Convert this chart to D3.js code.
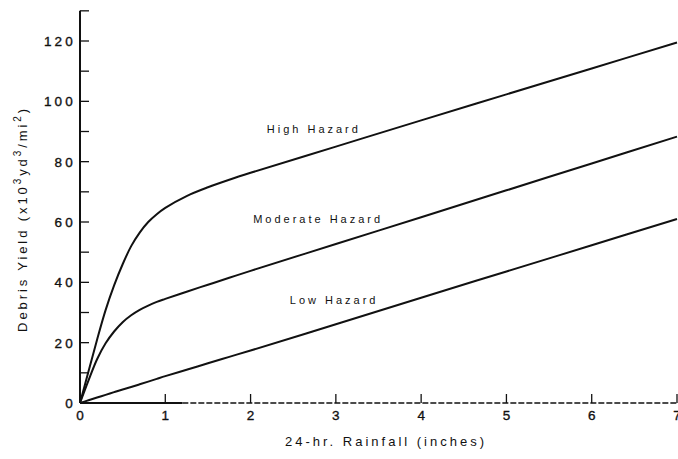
<!DOCTYPE html>
<meta charset="utf-8">
<style>
    html, body { margin: 0; padding: 0; background: #fff; }
    text { font-family: "Liberation Sans", Arial, sans-serif; fill: #111; }
</style>
<script src="https://d3js.org/d3.v7.min.js"></script>

<div id="chart"></div>

<script>
    // data
    const rainfall = [0, 0.1, 0.2, 0.3, 0.4, 0.5, 0.6, 0.7, 0.8, 0.9, 1.0, 1.25, 1.5, 1.75, 2, 3, 4, 5, 6, 7]
    const highHazard = [0, 10.5, 21, 30.8, 39, 46, 52, 56.5, 60, 62.6, 64.7, 68.6, 71.5, 74, 76.3, 85, 93.7, 102.3, 110.9, 119.5]
    const moderateHazard = [0, 7.5, 14.5, 19.8, 23.7, 26.8, 29.1, 30.9, 32.3, 33.5, 34.5, 36.9, 39.2, 41.5, 43.8, 52.7, 61.6, 70.5, 79.4, 88.3]
    const lowHazard = [0, 0.9, 1.8, 2.7, 3.6, 4.5, 5.3, 6.2, 7.1, 8.0, 8.9, 11, 13.2, 15.3, 17.4, 26.1, 34.9, 43.6, 52.3, 61]
    const seriesNames = ["High Hazard", "Moderate Hazard", "Low Hazard"]
    const xTicks = [0, 1, 2, 3, 4, 5, 6, 7]
    const yTicks = [0, 20, 40, 60, 80, 100, 120]
    const yMinorTicks = [10, 30, 50, 70, 90, 110]

    const W = 678, H = 459
    const svg = d3.select("#chart").append("svg")
        .attr("width", W)
        .attr("height", H)

    const x = d3.scaleLinear().domain([0, 7]).range([80, 677])
    const y = d3.scaleLinear().domain([0, 120]).range([403, 41])

    // y axis (ticks point inward)
    const yAxis = svg.append("g").attr("transform", `translate(${x(0)},0)`)
    yAxis.append("line")
        .attr("y1", y(0)).attr("y2", y(130))
        .attr("stroke", "#111").attr("stroke-width", 2)
    yAxis.append("line")
        .attr("x2", 9).attr("y1", y(130)).attr("y2", y(130))
        .attr("stroke", "#111").attr("stroke-width", 1.3)
    yAxis.selectAll(".ytick")
        .data(yTicks.concat(yMinorTicks))
        .join("line")
        .attr("x2", 9)
        .attr("y1", d => y(d)).attr("y2", d => y(d))
        .attr("stroke", "#111").attr("stroke-width", 1.3)
    yAxis.selectAll(".ylab")
        .data(yTicks)
        .join("text")
        .attr("x", -4)
        .attr("y", d => y(d))
        .attr("dy", "0.36em")
        .attr("text-anchor", "end")
        .style("font-size", "13.5px")
        .style("letter-spacing", "3.2px")
        .style("stroke", "#111").style("stroke-width", 0.35)
        .text(d => d)

    // x axis (ticks point up), partly dashed as in the scan
    const xAxis = svg.append("g").attr("transform", `translate(0,${y(0)})`)
    xAxis.append("line")
        .attr("x1", x(0)).attr("x2", x(1.2))
        .attr("stroke", "#111").attr("stroke-width", 2.2)
    xAxis.append("line")
        .attr("x1", x(1.2)).attr("x2", x(7))
        .attr("stroke", "#111").attr("stroke-width", 1.4)
        .attr("stroke-dasharray", "6,2")
    xAxis.selectAll(".xtick")
        .data(xTicks)
        .join("line")
        .attr("x1", d => x(d)).attr("x2", d => x(d))
        .attr("y2", -9)
        .attr("stroke", "#111").attr("stroke-width", 1.3)
    xAxis.selectAll(".xlab")
        .data(xTicks)
        .join("text")
        .attr("x", d => x(d))
        .attr("y", 17)
        .attr("text-anchor", "middle")
        .style("font-size", "13.5px")
        .style("stroke", "#111").style("stroke-width", 0.35)
        .text(d => d)

    // curves
    const series = [highHazard, moderateHazard, lowHazard]
    const line = d3.line()
        .x((d, i) => x(rainfall[i]))
        .y(d => y(d))
        .curve(d3.curveCatmullRom.alpha(0.5))
    svg.append("g")
        .selectAll("path")
        .data(series)
        .join("path")
        .attr("d", line)
        .attr("fill", "none")
        .attr("stroke", "#111")
        .attr("stroke-width", 2)

    // curve labels
    const labelPos = [[2.19, 89.5], [2.03, 59.7], [2.46, 32.8]]
    svg.append("g")
        .selectAll("text")
        .data(seriesNames)
        .join("text")
        .attr("x", (d, i) => x(labelPos[i][0]))
        .attr("y", (d, i) => y(labelPos[i][1]))
        .style("font-size", "11px")
        .style("letter-spacing", "3px")
        .text(d => d)

    // axis titles
    svg.append("text")
        .attr("x", 386)
        .attr("y", 446)
        .attr("text-anchor", "middle")
        .style("font-size", "13px")
        .style("letter-spacing", "3px")
        .text("24-hr. Rainfall (inches)")

    const yTitle = svg.append("text")
        .attr("transform", "translate(27,219) rotate(-90)")
        .attr("text-anchor", "middle")
        .style("font-size", "13px")
        .style("letter-spacing", "2.9px")
    yTitle.append("tspan").text("Debris Yield (x10")
    yTitle.append("tspan").attr("dy", -6).style("font-size", "10px").text("3")
    yTitle.append("tspan").attr("dy", 6).text("yd")
    yTitle.append("tspan").attr("dy", -6).style("font-size", "10px").text("3")
    yTitle.append("tspan").attr("dy", 6).text("/mi")
    yTitle.append("tspan").attr("dy", -6).style("font-size", "10px").text("2")
    yTitle.append("tspan").attr("dy", 6).text(")")
</script>
